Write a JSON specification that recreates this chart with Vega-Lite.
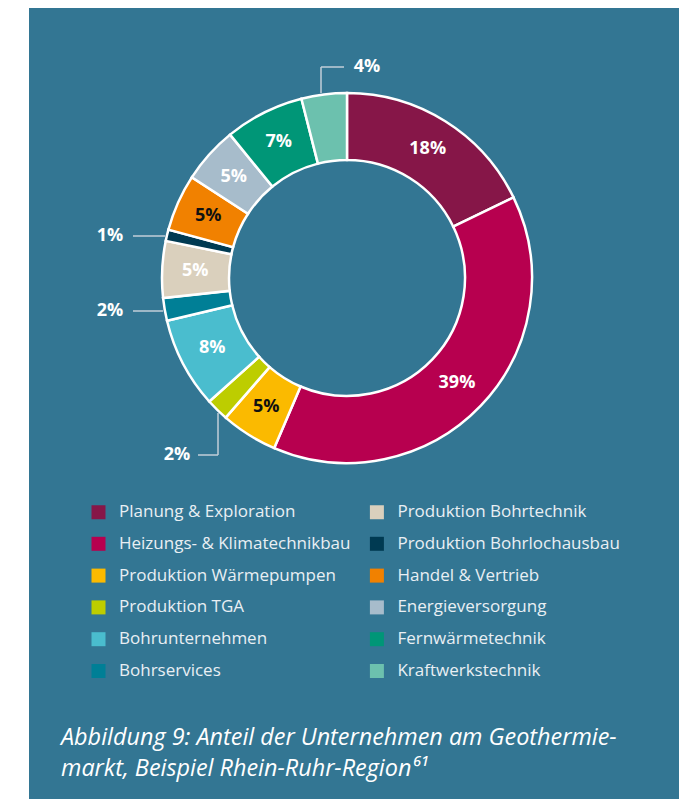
{
  "$schema": "https://vega.github.io/schema/vega-lite/v6.json",
  "width": 650,
  "height": 791,
  "padding": {"left": 29, "top": 8, "right": 14, "bottom": 0},
  "autosize": {"type": "none"},
  "background": "white",
  "config": {"view": {"fill": "#337693", "stroke": null}},
  "title": {
    "text": ["Abbildung 9: Anteil der Unternehmen am Geothermie-", "markt, Beispiel Rhein-Ruhr-Region⁶¹"],
    "orient": "bottom",
    "anchor": "start",
    "frame": "group",
    "baseline": "alphabetic",
    "offset": -54,
    "dx": 32,
    "font": "Open Sans",
    "fontSize": 23.4,
    "fontStyle": "italic",
    "fontWeight": "normal",
    "color": "#ffffff",
    "lineHeight": 31
  },
  "datasets": {
    "shares": [
      {"idx": 1, "cat": "Planung & Exploration", "share": 0.18},
      {"idx": 2, "cat": "Heizungs- & Klimatechnikbau", "share": 0.39},
      {"idx": 3, "cat": "Produktion Wärmepumpen", "share": 0.05},
      {"idx": 4, "cat": "Produktion TGA", "share": 0.02},
      {"idx": 5, "cat": "Bohrunternehmen", "share": 0.08},
      {"idx": 6, "cat": "Bohrservices", "share": 0.02},
      {"idx": 7, "cat": "Produktion Bohrtechnik", "share": 0.05},
      {"idx": 8, "cat": "Produktion Bohrlochausbau", "share": 0.01},
      {"idx": 9, "cat": "Handel & Vertrieb", "share": 0.05},
      {"idx": 10, "cat": "Energieversorgung", "share": 0.05},
      {"idx": 11, "cat": "Fernwärmetechnik", "share": 0.07},
      {"idx": 12, "cat": "Kraftwerkstechnik", "share": 0.04}
    ],
    "leaders": [
      {"x": -26, "y": 185, "x2": -26, "y2": 211},
      {"x": -26, "y": 211, "x2": -3, "y2": 211},
      {"x": -214, "y": 42, "x2": -182, "y2": 42},
      {"x": -214, "y": -33, "x2": -184, "y2": -33},
      {"x": -129, "y": -135, "x2": -129, "y2": -177},
      {"x": -129, "y": -177, "x2": -149, "y2": -177}
    ],
    "outside": [
      {"x": 20, "y": 211, "label": "4%"},
      {"x": -237, "y": 42, "label": "1%"},
      {"x": -237, "y": -33, "label": "2%"},
      {"x": -170, "y": -177, "label": "2%"}
    ]
  },
  "layer": [
    {
      "data": {"name": "shares"},
      "mark": {"type": "arc", "outerRadius": 185, "innerRadius": 118, "stroke": "#ffffff", "strokeWidth": 2.5},
      "encoding": {
        "theta": {"field": "share", "type": "quantitative", "stack": true},
        "order": {"field": "idx", "type": "quantitative"},
        "x": {"datum": 0, "type": "quantitative", "scale": {"domain": [-318, 332], "nice": false, "zero": false}, "axis": null},
        "y": {"datum": 0, "type": "quantitative", "scale": {"domain": [-521, 270], "nice": false, "zero": false}, "axis": null},
        "color": {
          "field": "cat",
          "type": "nominal",
          "scale": {
            "domain": ["Planung & Exploration", "Heizungs- & Klimatechnikbau", "Produktion Wärmepumpen", "Produktion TGA", "Bohrunternehmen", "Bohrservices", "Produktion Bohrtechnik", "Produktion Bohrlochausbau", "Handel & Vertrieb", "Energieversorgung", "Fernwärmetechnik", "Kraftwerkstechnik"],
            "range": ["#861648", "#b7004f", "#fbba00", "#bdcd00", "#4abdce", "#007f96", "#dad0bd", "#003a52", "#f18100", "#a7bccb", "#009677", "#6cc1ae"]
          },
          "legend": {
            "orient": "none",
            "legendX": 61,
            "legendY": 495.5,
            "columns": 2,
            "title": null,
            "padding": 0,
            "symbolType": "square",
            "symbolSize": 196,
            "symbolStrokeWidth": 0,
            "symbolOpacity": 1,
            "labelFont": "Open Sans",
            "labelFontSize": 17,
            "labelColor": "#e9eff3",
            "labelLimit": 400,
            "labelOffset": 12,
            "rowPadding": 13.8,
            "columnPadding": 17.4
          }
        }
      }
    },
    {
      "data": {"name": "shares"},
      "mark": {"type": "text", "radius": 152, "font": "Open Sans", "fontSize": 18, "fontWeight": "bold", "align": "center", "baseline": "middle"},
      "encoding": {
        "theta": {"field": "share", "type": "quantitative", "stack": true},
        "order": {"field": "idx", "type": "quantitative"},
        "x": {"datum": 0, "type": "quantitative"},
        "y": {"datum": 0, "type": "quantitative"},
        "text": {"field": "share", "type": "quantitative", "format": ".0%"},
        "color": {
          "condition": {"test": "datum.cat === 'Produktion Wärmepumpen' || datum.cat === 'Handel & Vertrieb'", "value": "#111111"},
          "value": "#ffffff"
        },
        "opacity": {"condition": {"test": "datum.share < 0.045", "value": 0}, "value": 1}
      }
    },
    {
      "data": {"name": "leaders"},
      "mark": {"type": "rule", "color": "#c3cfd8", "strokeWidth": 1.5},
      "encoding": {
        "x": {"field": "x", "type": "quantitative"},
        "y": {"field": "y", "type": "quantitative"},
        "x2": {"field": "x2"},
        "y2": {"field": "y2"}
      }
    },
    {
      "data": {"name": "outside"},
      "mark": {"type": "text", "font": "Open Sans", "fontSize": 18, "fontWeight": "bold", "color": "#ffffff", "align": "center", "baseline": "middle"},
      "encoding": {
        "x": {"field": "x", "type": "quantitative"},
        "y": {"field": "y", "type": "quantitative"},
        "text": {"field": "label"}
      }
    }
  ]
}
